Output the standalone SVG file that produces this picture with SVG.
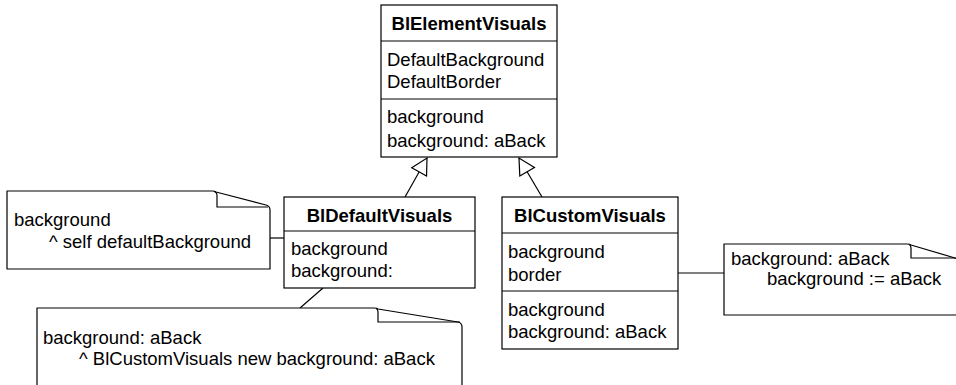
<svg xmlns="http://www.w3.org/2000/svg" width="956" height="385" viewBox="0 0 956 385">
<style>
.box{fill:#fff;stroke:#000;stroke-width:1.2}
.ln{fill:none;stroke:#000;stroke-width:1.2}
.note{fill:#fff;stroke:#000;stroke-width:1.2;stroke-linejoin:round}
text{font-family:"Liberation Sans",Arial,Helvetica,sans-serif;font-size:18.5px;fill:#000}
.t{font-weight:bold;text-anchor:middle}
</style>
<defs>
<marker id="inh" markerUnits="userSpaceOnUse" markerWidth="20" markerHeight="20" refX="16" refY="8.5" orient="auto" overflow="visible">
<path d="M0,0 L16,8.5 L0,17 Z" fill="#fff" stroke="#000" stroke-width="1.2"/>
</marker>
</defs>
<rect width="956" height="385" fill="#fff"/>
<g id="connectors">
<line class="ln" x1="405" y1="197" x2="427" y2="158" marker-end="url(#inh)"/>
<line class="ln" x1="542" y1="197" x2="519" y2="158" marker-end="url(#inh)"/>
<line class="ln" x1="270" y1="238" x2="284" y2="238"/>
<line class="ln" x1="300" y1="308" x2="323" y2="288"/>
<line class="ln" x1="678" y1="273" x2="724" y2="273"/>
</g>
<g id="BlElementVisuals">
<rect class="box" x="381" y="5" width="176" height="152"/>
<line class="ln" x1="381" y1="41" x2="557" y2="41"/>
<line class="ln" x1="381" y1="99" x2="557" y2="99"/>
<text class="t" x="469" y="30">BlElementVisuals</text>
<text x="387" y="66">DefaultBackground</text>
<text x="387" y="88">DefaultBorder</text>
<text x="387" y="123">background</text>
<text x="387" y="147">background: aBack</text>
</g>
<g id="BlDefaultVisuals">
<rect class="box" x="284" y="197" width="191" height="91"/>
<line class="ln" x1="284" y1="231" x2="475" y2="231"/>
<text class="t" x="379.5" y="222">BlDefaultVisuals</text>
<text x="291" y="255">background</text>
<text x="291" y="277">background:</text>
</g>
<g id="BlCustomVisuals">
<rect class="box" x="502" y="197" width="176" height="152"/>
<line class="ln" x1="502" y1="233" x2="678" y2="233"/>
<line class="ln" x1="502" y1="291" x2="678" y2="291"/>
<text class="t" x="590" y="222">BlCustomVisuals</text>
<text x="508" y="258">background</text>
<text x="508" y="281">border</text>
<text x="508" y="316">background</text>
<text x="508" y="338">background: aBack</text>
</g>
<g id="noteLeft">
<path class="note" d="M7,191 H212 Q215,191 216,192 L266,205 Q270,206 270,210 V269 H7 Z"/>
<path class="ln" d="M214,191.5 Q217,192 217,196 V207 H268"/>
<text x="14" y="226">background</text>
<text x="49" y="248">^ self defaultBackground</text>
</g>
<g id="noteBottom">
<path class="note" d="M37,308 H374 Q377,308 378,309 L458,322 Q462,323 462,327 V388 H37 Z"/>
<path class="ln" d="M376,308.5 Q378,309 378,313 V322 H460"/>
<text x="43" y="344">background: aBack</text>
<text x="79" y="365">^ BlCustomVisuals new background: aBack</text>
</g>
<g id="noteRight">
<path class="note" d="M724,244 H907 Q910,244 911,245 L955,258 Q959,259 959,263 V315 H724 Z"/>
<path class="ln" d="M909,244.5 Q911,245 911,249 V258 H957"/>
<text x="731" y="265">background: aBack</text>
<text x="767" y="285">background := aBack</text>
</g>
</svg>
